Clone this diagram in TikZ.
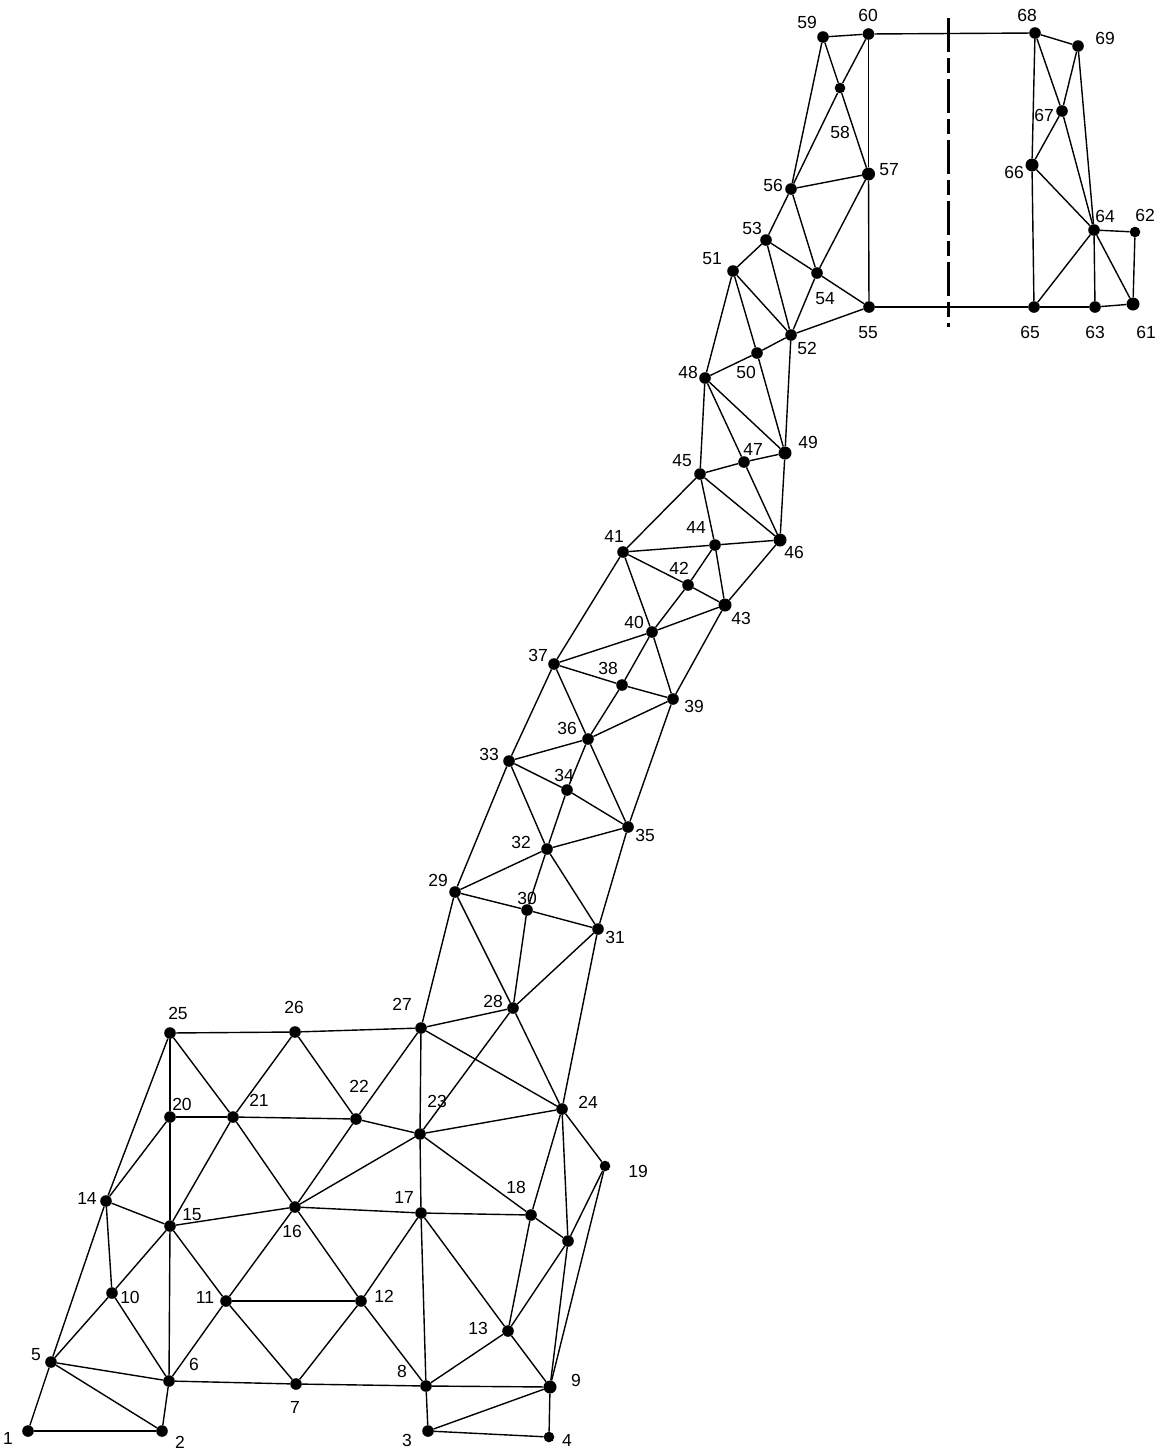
\documentclass[tikz,border=0pt]{standalone}
\usepackage{fontspec}
\setmainfont{Liberation Sans}
\begin{document}
\begin{tikzpicture}[x=1pt,y=-1pt,
  dot/.style={circle,fill=black,draw=none,inner sep=0pt,minimum size=11.6pt},
  bigdot/.style={dot,minimum size=13pt},
  smalldot/.style={dot,minimum size=10.6pt},
  lab/.style={font=\fontsize{17.5}{19}\selectfont,text=black,inner sep=0pt},
  edge/.style={draw=black,line width=1.4pt},
  axis/.style={draw=black,line width=3pt,dash pattern=on 34pt off 6pt on 14.5pt off 6.5pt}]
\useasboundingbox (0,0) rectangle (1165,1454);
\fill[white] (0,0) rectangle (1165,1454);
\foreach \n/\x/\y/\lx/\ly in {
1/28/1431/8/1438,2/162/1431/180/1442,5/51/1362/36/1355,6/169/1381/194/1364,7/296/1384/295/1407,
8/426/1386/402/1371,10/112/1293/130/1297,11/226/1301/205/1297,12/361/1301/384/1296,13/508/1331/478/1328,
14/106/1201/87/1198,15/170/1226/192/1215,16/295/1207/292/1231,17/421/1213/404/1197,18/531/1215/516/1187,
20/170/1117/182/1104,21/233/1117/259/1100,22/356/1119/359/1086,23/420/1134/437/1101,24/562/1109/588/1102,
25/170/1033/178/1013,26/295/1032/294/1007,27/421/1028/402/1004,28/513/1008/493/1001,29/455/892/438/880,
30/527/910/527/898,31/598/929/615/937,32/547/849/521/842,33/509/761/489/754,34/567/790/564/775,
35/628/827/645/835,36/588/739/567/728,37/554/664/538/655,38/622/685/608/668,39/673/699/694/706,
40/652/632/634/622,41/623/552/614/536,42/688/585/679/568,44/715/545/696/527,45/700/474/682/461,
47/744/462/753/449,48/705/378/688/372,50/757/353/746/372,51/733/271/712/259,52/791/335/807/348,
53/766/240/752/228,54/817/273/825/299,55/869/307/868/333,56/791/189/773/185,59/823/37/807/22,
60/868.5/34/868/15,63/1095/307/1095/332,64/1094/230/1105/216,65/1034/307/1030/332,67/1062/111/1044/115,
68/1035/33/1027/15,69/1078/46/1105/38,3/428/1431/407/1440}
  {\node[dot] (n\n) at (\x,\y) {}; \node[lab] (t\n) at (\lx,\ly) {\n};}
\foreach \n/\x/\y/\lx/\ly in {
9/550/1387/576/1380,43/725/605/741/618,46/780/540/794/552,49/785/453/808/442,57/868.5/174/889/170,
66/1032/165/1014/172,61/1133/304/1146/332}
  {\node[bigdot] (n\n) at (\x,\y) {}; \node[lab] (t\n) at (\lx,\ly) {\n};}
\foreach \n/\x/\y/\lx/\ly in {
4/549/1437/567/1440,19/605/1166/638/1171,62/1135/232/1145/215}
  {\node[smalldot] (n\n) at (\x,\y) {}; \node[lab] (t\n) at (\lx,\ly) {\n};}
\node[smalldot] (n58) at (840,88) {};
\node[lab] (t58) at (840,132) {58};
\node[dot] (nx) at (568,1241) {};
\foreach \a/\b in {
1/2,1/5,5/2,5/6,5/10,5/14,2/6,6/7,7/8,8/9,6/10,6/11,6/15,10/14,10/15,11/15,11/7,11/12,11/16,12/7,12/16,12/17,12/8,
8/17,8/13,8/3,3/9,3/4,4/9,9/13,9/x,9/19,13/17,13/18,13/x,x/19,18/x,x/24,18/24,17/18,17/23,17/16,18/23,
16/15,16/23,16/21,16/22,15/14,15/20,15/21,14/20,14/25,20/21,20/25,21/25,21/26,21/22,22/26,22/27,22/23,
23/27,23/28,23/24,24/27,24/28,24/31,24/19,25/26,26/27,27/28,27/29,28/29,28/30,28/31,29/30,29/32,29/33,
30/31,30/32,31/32,31/35,32/33,32/34,32/35,33/34,33/36,33/37,34/35,34/36,35/36,35/39,36/37,36/38,36/39,
37/38,37/40,37/41,38/39,38/40,39/40,39/43,40/41,40/42,40/43,41/42,41/44,41/45,42/43,42/44,43/44,43/46,
44/45,44/46,45/46,45/47,45/48,46/47,46/49,47/48,47/49,48/49,48/50,48/51,49/50,49/52,50/51,50/52,51/52,
51/53,52/53,52/54,52/55,53/54,53/56,54/55,54/56,54/57,55/57,56/57,56/58,56/59,57/58,57/60,58/59,58/60,
59/60,60/68,55/65,65/63,63/61,61/62,62/64,64/61,64/63,64/65,64/66,67/64,68/67,64/69,65/66,66/67,66/68,67/69,68/69}
  {\draw[edge] (n\a) -- (n\b);}
\coordinate (axtop) at (948,18);
\coordinate (axbot) at (948,327);
\draw[axis] (axtop) -- (axbot);
\end{tikzpicture}
\end{document}
